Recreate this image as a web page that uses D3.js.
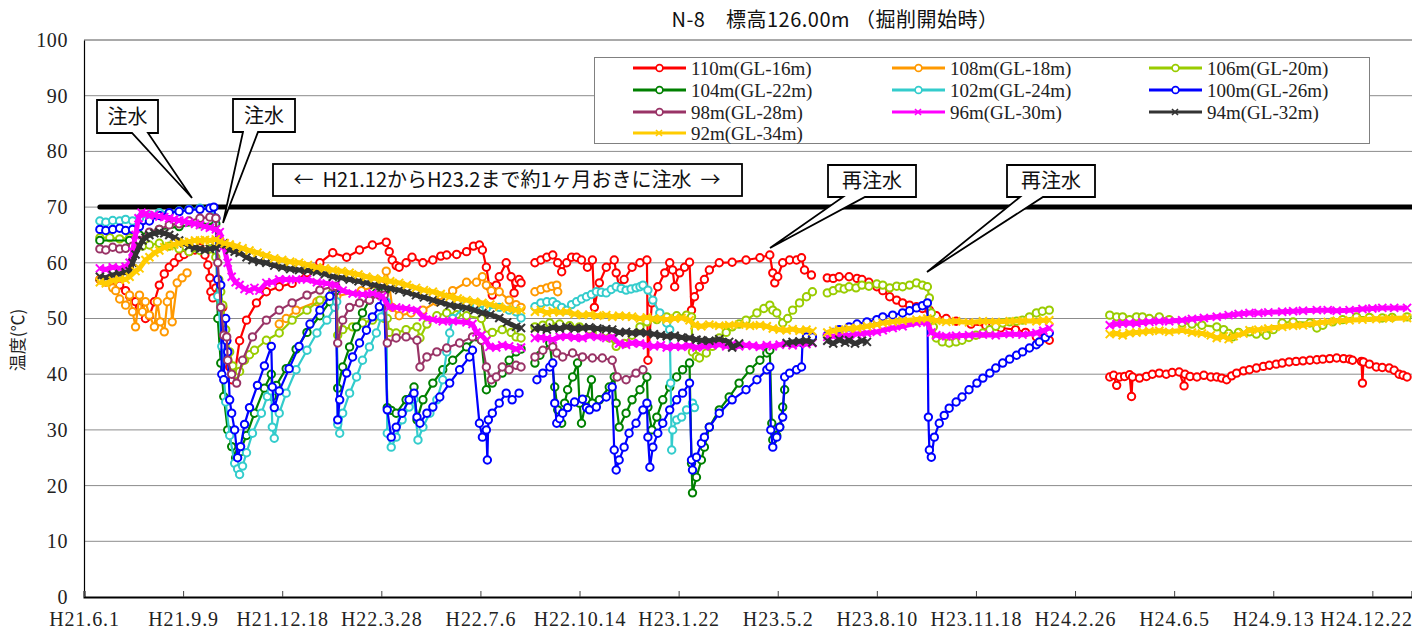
<!DOCTYPE html>
<html><head><meta charset="utf-8">
<script src="https://cdn.jsdelivr.net/npm/d3@7/dist/d3.min.js"></script>
<style>body{margin:0;background:#fff}svg{display:block}</style>
</head><body><svg id="c" width="1412" height="635"></svg>
<script>
// ---- axis data (days since H21.6.1) ----
const tickDays = [0,100,200,300,400,500,600,700,800,900,1000,1100,1200,1300];
const tickLabels = ["H21.6.1","H21.9.9","H21.12.18","H22.3.28","H22.7.6","H22.10.14","H23.1.22","H23.5.2","H23.8.10","H23.11.18","H24.2.26","H24.6.5","H24.9.13","H24.12.22"];
const yTicks = [0,10,20,30,40,50,60,70,80,90,100];
const seriesNames = ["110m(GL-16m)","108m(GL-18m)","106m(GL-20m)","104m(GL-22m)","102m(GL-24m)","100m(GL-26m)","98m(GL-28m)","96m(GL-30m)","94m(GL-32m)","92m(GL-34m)"];
const seriesColors = ["#FF0000","#FF9900","#99CC00","#008000","#33CCCC","#0000FF","#993366","#FF00FF","#333333","#FFCC00"];
const seriesMarkers = ["circle","circle","circle","circle","circle","circle","circle","x","x","x"];
const limitDays = [16,216,416,616,816,1016,1216,1340];
const limitValue = 70;

// ---- series values: [day, temperature] ; null = data gap ----
const s110 = [[16,57],[26,56.5],[32,55.5],[36,56],[42,55],[46,54],[52,53],[56,52],[62,50],[66,50.5],[71,53],[76,56],[81,58],[86,59.2],[91,60],[96,61],[101,61.5],[106,62],[112,62.3],[117,62.7],[122,61.4],[125,59.6],[127,57.3],[128,54.8],[130,53.7],[133,55.5],[137,55],[140,52],[144,46],[147,41.3],[149,39],[152,40],[157,46],[164,49.7],[174,52.8],[184,54.8],[197,55.7],[210,56.3],[225,58.2],[238,60],[251,61.8],[265,61],[278,62.3],[291,63.2],[305,63.7],[308,62],[311,60.5],[315,59.5],[318,59.2],[325,60],[331,61],[342,60],[352,60.5],[360,61.2],[366,61.4],[376,61.5],[386,62],[393,63],[399,63.2],[402,62.3],[406,59.2],[409,55.7],[412,54.2],[416,56],[419,57.5],[426,60],[431,57.5],[434,54.6],[436,56.5],[439,57],[441,56.4],
 null,
 [455,60],[461,60.5],[467,61],[473,61.4],[478,60],[482,58.4],[487,60],[492,61],[497,61],[502,60.5],[508,59.2],[513,60.5],[515,52],[520,56.4],[527,59.2],[535,60.5],[537,58.2],[540,55.7],[545,57],[553,59.2],[561,60],[568,60.5],[569,42.5],[573,52.8],[579,55.7],[586,58.2],[591,60],[594,58.7],[596,55.7],[601,58.2],[606,59.2],[611,60.1],[613,51.5],[616,53.9],[621,55.7],[626,57],[631,58.7],[641,60],[654,60.1],[668,60.5],[682,60.9],[692,61.4],[695,58.2],[697,56.4],[700,57.5],[705,60],[712,60.5],[719,60.5],[724,60.9],[727,58.7],[734,57.8],
 null,
 [750,57.3],[756,57.2],[762,57.5],[772,57.5],[780,57.2],[785,57],[792,56.5],[800,55.7],[806,55],[813,53.9],[820,53.3],[826,52.8],[833,52.4],[840,52.1],[846,51.8],[853,51.5],[860,50.5],[870,50],[880,49.5],[895,49],[910,48.7],[925,48.3],[940,48],[950,47.5],[961,46.7],[968,46.5],[974,46.1],
 null,
 [1035,39.5],[1039,39.8],[1042,38],[1045,39.5],[1050,39.6],[1055,39.9],[1057,36],[1058,39.5],[1065,39.3],[1072,39.6],[1078,40],[1085,40.2],[1092,40],[1098,40.3],[1105,40.4],[1110,37.9],[1111,40],[1116,39.6],[1123,39.5],[1130,39.8],[1137,39.5],[1143,39.5],[1148,39.3],[1153,39],[1158,39.7],[1163,40.2],[1170,40.6],[1176,40.8],[1183,41.1],[1190,41.4],[1196,41.6],[1203,41.8],[1209,42],[1216,42.2],[1223,42.3],[1230,42.4],[1237,42.5],[1244,42.6],[1250,42.7],[1257,42.8],[1264,42.9],[1271,42.8],[1277,42.7],[1280,42.5],[1289,42.3],[1290,38.4],[1291,42.2],[1297,41.8],[1304,41.3],[1310,41.2],[1317,41.1],[1322,40.7],[1327,40],[1331,39.8],[1335,39.5]];

const s108 = [[16,57],[22,56.5],[29,55.5],[32,55],[36,53.5],[42,52.4],[46,54.2],[49,51.2],[52,48.5],[56,54.2],[59,51.2],[62,53],[66,50.6],[71,48.5],[74,53],[77,49.4],[81,47.6],[84,53],[87,54.2],[89,49.4],[94,56.4],[99,57.3],[104,58.2],
 null,
 [197,49],[204,50],[214,51.5],[235,53],[255,54],[280,55],[300,56],[305,58.5],[308,56],[311,52],[318,50.5],[330,51],[342,51.5],[356,53],[372,55],[386,56.5],[396,56.5],[402,57.5],[406,56],[411,55],[419,54.8],[429,53.3],[436,52.5],[441,52],
 null,
 [455,54.8],[461,55.2],[467,55.5],[472,55.8],[477,56],[478,54.8]];

const s106 = [[16,64.5],[26,64.5],[36,64.3],[46,64.5],[52,63.5],[59,63],[66,63.2],[76,63.5],[86,63],[96,62.5],[106,62],[117,62.2],[127,62.5],[133,61],[136,57],[138,54.8],[140,52.4],[143,48],[147,44],[150,41.5],[153,40],[157,40.5],[162,42.5],[167,43.5],[172,44.3],[184,46.1],[197,47.4],[210,49.7],[225,51.5],[238,53.3],[251,54.8],[255,55],[256,47],[261,48],[271,48.5],[281,49.2],[291,49.7],[303,50],[306,50],[308,47.5],[315,47.4],[325,48],[336,48.5],[339,46.5],[346,49],[356,50.5],[366,51],[376,50.7],[386,50.5],[401,50],[406,47],[412,47.5],[422,48],[431,47.5],[436,46.7],[441,46.5],
 null,
 [455,48.5],[463,48.8],[470,49.2],[480,49],[490,48.7],[500,48.5],[510,48],[520,47.5],[530,46.5],[537,45],[545,45.5],[553,47],[561,48.5],[568,49.4],[578,49.8],[588,50.3],[598,50.5],[608,50.6],[613,50.3],[614,44],[618,43.2],[621,42.9],[628,43.8],[634,45],[641,46.5],[648,47.5],[654,48.5],[661,49],[668,49.7],[679,51],[686,51.8],[692,52.4],[695,51.5],[699,51],[705,49.2],[710,50],[715,51.5],[722,52.8],[729,53.9],[735,54.8],
 null,
 [750,54.6],[756,55],[762,55.5],[767,55.3],[772,55.7],[779,55.5],[785,56],[792,55.8],[800,56.2],[806,56],[813,55.5],[820,55.8],[826,55.7],[833,56],[840,56.4],[846,56],[851,55.7],[853,53.7],[855,51],[857,48.5],[860,46.5],[866,45.8],[873,45.6],[880,45.8],[886,46.1],[893,46.6],[900,47],[907,47.4],[914,48],[920,48.6],[927,49.2],[934,49.4],[941,49.5],[947,49.7],[954,50.3],[961,51],[967,51.3],[974,51.5],
 null,
 [1035,50.6],[1042,50.3],[1048,50.3],[1055,49.8],[1062,50.3],[1068,50.3],[1075,50],[1085,50.3],[1095,49.8],[1108,49.2],[1118,49],[1128,48.8],[1143,48.5],[1150,48],[1155,47.3],[1159,46.7],[1165,47.5],[1176,47.6],[1183,47.2],[1193,47],[1200,48],[1209,49.2],[1220,49.4],[1237,49.2],[1244,48.3],[1250,48.8],[1260,49.4],[1270,49.8],[1284,50.3],[1297,50.2],[1310,50.1],[1320,50.2],[1335,50.3]];

const s104 = [[16,64],[46,64],[56,65],[76,66],[96,66.5],[117,67],[133,67],[135,50],[138,42],[141,36],[145,30],[149,27],[153,25],[157,26],[164,29],[172,33],[182,37.5],[189,40],[190,36],[194,38],[204,41],[214,44.5],[225,47.5],[238,50.5],[248,53],[254,55],[256,37.5],[261,41.3],[268,44.9],[275,48.5],[281,51],[288,53.3],[295,54.6],[301,54.8],[304,55],[306,34],[310,33.5],[315,33],[325,35.4],[333,37.7],[336,31.8],[342,35.4],[352,38.4],[362,40.8],[372,42.5],[386,44.9],[396,46.7],[401,46.1],[406,37.2],[412,38.4],[422,40.2],[429,42.5],[436,44],[441,44.5],
 null,
 [455,42],[460,43.4],[470,45.6],[475,37.7],[478,33.6],[482,31.2],[485,34.8],[488,37.2],[493,39.5],[498,42],[500,34.8],[502,31.2],[507,35.4],[512,39],[513,34.8],[520,35.4],[530,37.7],[535,39.5],[537,34.8],[540,30.5],[547,33],[553,35.4],[561,37.2],[568,39.5],[569,34.1],[573,30],[578,32.3],[584,35.4],[591,37.7],[598,39.5],[604,40.8],[611,42],[613,24],[614,18.7],[618,21.5],[623,24.6],[626,26.9],[631,30.5],[641,33.6],[651,35.9],[661,38.4],[672,40.8],[682,42.5],[689,43.8],[692,44.3],[694,31.2],[695,28.2],[699,29],[702,30.5],[705,34.1],[707,37.2]];

const s102 = [[16,67.5],[22,67.3],[29,67.6],[36,67.5],[42,67.8],[49,67.5],[56,68],[66,68.5],[76,69],[96,69.3],[106,69.6],[117,69.8],[127,69.8],[133,68],[135,54],[139,45],[143,35],[147,29],[152,24],[155,23],[157,22],[160,23.5],[164,25.9],[170,29.4],[179,33],[185,36],[189,37],[190,30.5],[192,28.5],[197,33],[204,36.6],[214,40.8],[225,44.3],[235,47.4],[245,49.7],[253,52],[255,53],[256,31],[258,29.4],[261,33],[268,36.6],[275,39.5],[281,42.5],[288,44.9],[295,47.4],[300,50.3],[303,52.4],[305,53],[306,29.4],[310,26.9],[315,28.7],[321,31.8],[328,34.1],[333,35.5],[337,28.2],[342,30.5],[349,33],[356,35.4],[362,39],[366,44],[369,47.4],[372,50],[386,52.5],[396,52.3],[406,51.8],[419,52],[429,51.5],[436,51.2],[441,50.1],
 null,
 [455,52.1],[461,52.8],[467,53],[473,53],[477,52.5],[482,52],[487,51.5],[492,52.5],[497,53],[502,53.5],[507,53.9],[512,54.3],[517,54.8],[522,54.7],[527,54.6],[532,55.2],[537,55.7],[542,55.4],[547,55.1],[552,55.3],[557,55.5],[561,55.7],[564,56],[569,55.1],[574,53.3],[581,51],[588,49.2],[591,48],[592,38.4],[593,26.4],[594,30],[598,31.8],[603,32.3],[608,33.6],[614,34.8],[616,34]];

const s100 = [[16,66],[22,65.8],[29,66],[36,66.2],[42,65.8],[49,66],[56,66.5],[66,67.5],[76,68.5],[86,69],[96,69.2],[106,69.5],[117,69.6],[127,69.8],[131,70],[133,68],[135,57],[138,56],[139,40],[141,39],[143,50],[144,46],[145,44],[147,35.4],[149,33],[152,30],[155,25],[158,27],[162,31],[167,34],[175,38],[182,41.5],[189,45],[190,37.7],[192,34],[197,37],[207,41],[217,45],[228,49],[238,51.5],[248,54],[254,55.5],[256,31.8],[258,35.4],[265,40.2],[271,43.1],[278,45.6],[285,47.9],[291,50.3],[298,52.1],[303,53],[306,33.6],[310,28.7],[315,30.5],[321,33],[328,35.4],[333,36.6],[336,32.3],[339,31.2],[346,33],[352,34.1],[359,35.9],[369,38.4],[379,40.8],[389,43.1],[392,44.3],[399,31.2],[402,28.7],[406,30],[407,24.6],[408,31.8],[412,33],[419,34.8],[426,36.6],[432,35.4],[439,36.6],
 null,
 [457,39],[463,40.2],[470,41.3],[473,42],[475,34.8],[477,31.2],[480,32],[483,33],[488,34],[495,35],[503,35.5],[507,34],[510,33.6],[517,34.1],[527,35.9],[533,37.7],[535,26.4],[537,22.8],[540,24.6],[545,26.9],[550,29.4],[557,31.2],[564,33.6],[568,34.8],[569,28.7],[571,23.3],[574,26.9],[579,29.4],[584,31.2],[591,33.6],[598,35.4],[604,36.6],[611,38.4],[613,24.6],[614,22.8],[618,25.1],[623,27.6],[626,28.7],[631,30.5],[641,33],[654,35.4],[668,37.2],[679,39],[689,40.8],[692,41.3],[693,30],[695,26.9],[699,28.7],[702,30.5],[705,32.3],[707,39.5],[712,40.2],[719,40.8],[724,41.3],[725,45.6],[729,46.7],[735,46.7],
 null,
 [750,47],[756,47.5],[762,48],[772,48.5],[780,49],[790,49.4],[800,49.8],[806,50.3],[816,50.6],[826,51],[833,51.4],[840,51.9],[846,52.3],[851,52.8],[852,32.3],[853,26.4],[855,25.1],[858,28.7],[863,31.2],[868,32.6],[873,33.9],[880,35],[886,35.9],[893,37.2],[901,38.4],[907,39.3],[914,40.2],[920,41.1],[927,42],[934,42.7],[941,43.4],[947,44],[954,44.7],[961,45.3],[964,45.8],[970,46.6],[974,47.4]];

const s98 = [[16,62.5],[22,62.3],[29,62.8],[36,62.5],[42,62.6],[49,63],[56,64],[66,65.5],[76,66],[86,66.8],[96,67],[106,67.5],[117,68],[127,68.2],[133,68],[135,60],[138,52],[141,47],[144,46.7],[145,42.5],[149,40],[154,38.4],[160,42.5],[170,46.7],[184,49.7],[197,51.5],[210,52.8],[225,54.2],[238,55.1],[251,55.7],[254,55.8],[256,45.6],[261,49.7],[268,52],[278,52.8],[288,53.3],[298,54.2],[303,54.2],[306,45.6],[315,46.5],[325,46.7],[336,46.1],[339,41.3],[346,43.1],[356,44],[366,44.7],[379,45.6],[392,46.7],[401,46.1],[406,41.3],[411,39],[416,39.5],[422,41.3],[429,40.8],[436,41.6],[441,41.3],
 null,
 [455,43.1],[463,44.3],[473,44.9],[477,43.8],[483,43.1],[493,43.8],[503,43.1],[513,42.9],[523,42.9],[533,42.5],[538,39.5],[547,39],[557,40.2],[564,40.8]];

const s96 = [[16,59],[22,58.8],[29,59.2],[36,59],[42,59.3],[46,60],[49,62],[52,65],[55,68],[58,69],[62,68.8],[66,68.5],[71,68.6],[76,68.3],[81,68.2],[86,68],[91,67.8],[96,67.6],[101,67.5],[106,67.2],[112,67],[117,66.8],[122,66.5],[127,66.3],[133,66],[137,65.5],[141,63],[145,60],[149,57.5],[153,56.5],[157,56],[162,55.3],[167,55],[172,55.5],[177,55],[184,56.4],[190,56.5],[197,57],[204,57],[214,57],[225,57],[235,56.5],[245,56.3],[254,56],[261,55],[271,54.5],[281,54.3],[291,54.5],[301,54],[308,52],[315,52],[325,51.8],[336,51.5],[342,50.3],[352,49.8],[362,49.5],[372,49.5],[386,49.3],[392,49],[396,47.5],[401,47],[406,46],[409,44.9],[416,44.8],[422,45.2],[429,45],[436,44.5],[441,44.8],
 null,
 [455,46.5],[461,46.6],[467,46.4],[473,46.2],[480,46.7],[487,46.8],[495,46.6],[503,46.5],[510,46.9],[518,46.7],[527,46.5],[533,46.7],[540,45.5],[547,45.3],[553,45.6],[561,45.5],[568,45.2],[575,45],[582,45.2],[588,44.8],[596,45],[603,44.9],[611,45.1],[618,44.8],[626,45],[634,45.2],[641,45.3],[648,45],[654,45.4],[661,45],[668,45.2],[675,45.1],[682,44.9],[689,45.2],[695,45],[702,45.3],[709,45.4],[715,45.2],[722,45.5],[729,45.4],[735,45.6],
 null,
 [750,46.7],[756,46.8],[762,46.9],[772,47],[780,47.2],[790,47.4],[800,47.6],[806,47.9],[816,48.3],[826,48.6],[840,49.2],[851,49.3],[855,47.5],[860,47],[870,46.8],[880,46.9],[893,47],[907,47.1],[920,47],[934,47.2],[947,47.1],[961,47.4],[968,47.8],[974,48.3],
 null,
 [1035,48.8],[1042,49],[1048,49.1],[1055,49.2],[1062,49.1],[1068,49.3],[1075,49.4],[1085,49.5],[1095,49.5],[1108,49.7],[1118,49.9],[1130,50.1],[1143,50.3],[1155,50.6],[1165,50.8],[1176,51],[1185,51],[1195,51.1],[1209,51.2],[1220,51.3],[1230,51.4],[1244,51.5],[1255,51.5],[1264,51.4],[1277,51.5],[1290,51.7],[1300,51.8],[1310,51.9],[1322,51.9],[1335,51.9]];

const s94 = [[16,57.5],[22,57.3],[29,57.8],[36,58],[42,58.3],[46,58.5],[49,60],[52,61.5],[56,63],[59,64],[62,64.5],[66,65],[71,65.3],[76,65.5],[81,65.3],[86,65],[91,64.5],[96,64],[101,63.5],[106,63],[112,62.7],[117,62.5],[122,62.3],[127,62.5],[133,62.7],[137,63.3],[141,63.5],[147,62.3],[152,62],[157,61.8],[164,61],[170,60.5],[177,60.2],[184,60],[192,59.5],[200,59.2],[208,58.9],[217,58.7],[226,58.6],[235,58.4],[243,58],[251,57.5],[260,57.3],[268,57],[277,56.7],[285,56.4],[293,56],[301,55.7],[309,55.4],[318,55.1],[326,54.7],[335,54.2],[343,53.8],[352,53.3],[360,52.9],[369,52.4],[377,52.2],[386,51.9],[394,51.5],[402,51],[410,50.7],[419,50.1],[427,49.3],[436,48.5],[441,48.3],
 null,
 [455,48.2],[461,48.3],[467,48],[473,48.4],[480,48.2],[487,48.5],[495,48.2],[503,48.3],[510,48.4],[518,48.2],[527,48.1],[533,48],[540,47.5],[547,47.6],[553,47.4],[561,47.5],[568,47.4],[575,47.2],[582,47],[588,46.8],[596,46.9],[603,46.6],[611,46.5],[618,46.2],[623,46.1],[631,46],[641,46.3],[651,45.8],[654,44.8],[661,45.5],
 null,
 [709,45.6],[715,45.8],[722,45.9],[729,46],[735,45.7],
 null,
 [750,46],[756,45.5],[762,46.2],[768,45.7],[772,46.1],[778,45.5],[785,46],[790,45.8]];

const s92 = [[16,56.5],[22,56.3],[29,56.8],[36,57],[42,57],[46,57.5],[52,58.5],[56,59],[62,60.5],[66,61],[71,61.8],[76,62.2],[81,62.8],[86,63],[91,63.3],[96,63.5],[101,63.7],[106,63.8],[112,64],[117,64],[122,64.1],[127,64],[133,64.2],[137,63.8],[142,63.5],[147,63.3],[154,63],[160,62.6],[167,62.2],[175,61.8],[184,61.3],[192,60.8],[200,60.5],[208,60.2],[217,60],[226,59.6],[235,59.2],[243,59],[251,58.7],[260,58.5],[268,58.2],[277,57.9],[285,57.5],[293,57.2],[301,57],[309,56.7],[318,56.4],[326,56],[335,55.5],[343,55.1],[352,54.8],[360,54.4],[369,53.9],[377,53.6],[386,53.3],[394,53],[402,52.8],[410,52.5],[419,52.1],[427,51.8],[436,51.5],[441,51.5],
 null,
 [455,51.2],[461,51.5],[467,51],[473,51.3],[480,51.1],[487,51.2],[495,50.8],[503,50.6],[510,50.7],[518,50.5],[527,50.6],[533,50.3],[540,50.5],[547,50.4],[553,50.3],[561,50],[568,50.2],[575,49.9],[582,50],[588,49.8],[596,50],[603,50.1],[611,49.7],[616,48.8],[623,48.6],[631,48.9],[641,48.7],[651,48.8],[661,48.9],[672,48.7],[682,48.8],[689,48.6],[695,48.2],[702,48],[709,47.9],[715,48.1],[722,47.8],[729,48],[735,47.7],
 null,
 [750,47.5],[756,47.8],[762,48],[772,48.2],[780,48.3],[790,48.6],[800,48.9],[806,49.2],[816,49.4],[826,49.6],[840,49.8],[851,50],[860,49.6],[870,49.4],[880,49.5],[893,49.3],[907,49.5],[920,49.4],[934,49.5],[947,49.6],[961,49.5],[968,49.7],[974,49.7],
 null,
 [1035,47.2],[1042,47.3],[1048,47],[1055,47.4],[1062,47.5],[1068,47.6],[1075,47.7],[1085,47.8],[1095,47.6],[1108,47.9],[1118,47.5],[1128,47.3],[1137,47],[1143,46.5],[1150,46.8],[1155,46.3],[1160,46.8],[1170,47.3],[1176,47.9],[1185,48],[1195,48.2],[1209,48.5],[1220,48.7],[1230,48.8],[1244,49.2],[1255,49.4],[1264,49.6],[1277,49.7],[1290,49.8],[1304,49.9],[1317,50],[1335,50.1]];

const seriesValues = [s110,s108,s106,s104,s102,s100,s98,s96,s94,s92];

// ---- annotations ----
const callouts = [
  {text:"注水", box:[97,100,158,133], base:[132,148], tip:[192,198]},
  {text:"注水", box:[233,99,295,132], base:[243,258], tip:[223,223]},
  {text:"再注水", box:[828,165,916,197], base:[843,865], tip:[770,248]},
  {text:"再注水", box:[1007,165,1095,197], base:[1020,1043], tip:[927,272]}
];
const noteText = "←  H21.12からH23.2まで約1ヶ月おきに注水  →";

// ---- drawing ----
const svg = d3.select("#c");
const M = {l:84, r:1412, t:40, b:597};
const x = d3.scaleLinear().domain([0,1340]).range([M.l, M.r]);
const y = d3.scaleLinear().domain([0,100]).range([M.b, M.t]);
const serif = "'Liberation Serif','DejaVu Serif',serif";
const gothic = "'Noto Sans CJK JP','Noto Sans',sans-serif";

// gridlines
svg.append("g").selectAll("line").data(yTicks.filter(v=>v>0)).join("line")
  .attr("x1",M.l).attr("x2",M.r).attr("y1",d=>y(d)).attr("y2",d=>y(d))
  .attr("stroke",d=>d===100?"#555":"#8c8c8c").attr("stroke-width",1);

// y axis
const ya = svg.append("g").attr("transform",`translate(${M.l},0)`)
  .call(d3.axisLeft(y).tickValues(yTicks).tickSize(0).tickPadding(16));
ya.select(".domain").attr("stroke","#000").attr("stroke-width",1.2);
ya.selectAll("text").attr("font-family",serif).attr("font-size",20).attr("letter-spacing",0.6).attr("fill","#222");

// x axis
const xa = svg.append("g").attr("transform",`translate(0,${M.b})`)
  .call(d3.axisBottom(x).tickValues(tickDays).tickSize(-6).tickPadding(15)
    .tickFormat((d,i)=>tickLabels[i]));
xa.select(".domain").attr("stroke","#000").attr("stroke-width",2);
xa.selectAll(".tick line").attr("stroke","#444");
xa.selectAll("text").attr("font-family",serif).attr("font-size",20).attr("letter-spacing",0.9).attr("fill","#222");
xa.selectAll(".tick:last-of-type text").attr("text-anchor","end").attr("x",40);

// y label
svg.append("text").attr("transform","translate(24,340) rotate(-90)")
  .attr("text-anchor","middle").attr("font-family",gothic).attr("font-size",17)
  .attr("fill","#222").text("温度(℃)");

// title
svg.append("text").attr("x",835).attr("y",27).attr("text-anchor","middle")
  .attr("font-family",gothic).attr("font-size",20).attr("letter-spacing",0.5).attr("fill","#111")
  .text("N-8　標高126.00m （掘削開始時）");

// clip
svg.append("clipPath").attr("id","pc").append("rect")
  .attr("x",M.l).attr("y",M.t).attr("width",M.r-M.l).attr("height",M.b-M.t);
const plot = svg.append("g").attr("clip-path","url(#pc)");

// 70 line
plot.append("path").datum(limitDays)
  .attr("d", d3.line().x(d=>x(d)).y(()=>y(limitValue)))
  .attr("fill","none").attr("stroke","#000").attr("stroke-width",5).attr("stroke-linecap","round");

const line = d3.line().defined(d=>d!==null).x(d=>x(d[0])).y(d=>y(d[1]));
seriesValues.forEach((data,i)=>{
  const col = seriesColors[i];
  const g = plot.append("g");
  const isX = seriesMarkers[i]==="x";
  g.append("path").datum(data).attr("d",line).attr("fill","none")
    .attr("stroke",col).attr("stroke-width",isX?5:2.2).attr("stroke-linejoin","round");
  const pts = data.filter(d=>d!==null);
  if(isX){
    g.selectAll("path.m").data(pts).join("path").attr("class","m")
      .attr("d",d=>{const cx=x(d[0]),cy=y(d[1]);return `M${cx-4},${cy-4}L${cx+4},${cy+4}M${cx-4},${cy+4}L${cx+4},${cy-4}`;})
      .attr("stroke",col).attr("stroke-width",2);
  } else {
    g.selectAll("circle").data(pts).join("circle")
      .attr("cx",d=>x(d[0])).attr("cy",d=>y(d[1])).attr("r",3.7)
      .attr("fill","#fff").attr("stroke",col).attr("stroke-width",2);
  }
});

// legend
const lg = svg.append("g");
lg.append("rect").attr("x",594.5).attr("y",57.5).attr("width",775).attr("height",86)
  .attr("fill","#fff").attr("stroke","#808080").attr("stroke-width",1);
const colX = [633,892,1149], rowY = [68,90,112,133];
seriesNames.forEach((n,i)=>{
  const cx = colX[i%3], cy = rowY[Math.floor(i/3)], col = seriesColors[i];
  const e = lg.append("g");
  e.append("line").attr("x1",cx).attr("x2",cx+53).attr("y1",cy).attr("y2",cy)
    .attr("stroke",col).attr("stroke-width",3);
  if(seriesMarkers[i]==="x"){
    e.append("path").attr("d",`M${cx+23},${cy-3}L${cx+29},${cy+3}M${cx+23},${cy+3}L${cx+29},${cy-3}`)
      .attr("stroke",col).attr("stroke-width",1.6);
  } else {
    e.append("circle").attr("cx",cx+26.5).attr("cy",cy).attr("r",3.4)
      .attr("fill","#fff").attr("stroke",col).attr("stroke-width",1.7);
  }
  e.append("text").attr("x",cx+58).attr("y",cy+6.5).attr("font-family",serif)
    .attr("font-size",19).attr("fill","#222").text(n);
});

// callouts
callouts.forEach(c=>{
  const [x0,y0,x1,y1]=c.box, [a,b]=c.base, [tx,ty]=c.tip;
  svg.append("path").attr("d",`M${x0},${y0}H${x1}V${y1}H${b}L${tx},${ty}L${a},${y1}H${x0}Z`)
    .attr("fill","#fff").attr("stroke","#000").attr("stroke-width",1.8);
  svg.append("text").attr("x",(x0+x1)/2).attr("y",(y0+y1)/2+7).attr("text-anchor","middle")
    .attr("font-family",gothic).attr("font-size",20).attr("fill","#111").text(c.text);
});
svg.append("rect").attr("x",273).attr("y",164).attr("width",469).attr("height",32)
  .attr("fill","#fff").attr("stroke","#000").attr("stroke-width",1.8);
svg.append("text").attr("x",507).attr("y",187).attr("text-anchor","middle")
  .attr("font-family",gothic).attr("font-size",20).attr("fill","#111")
  .attr("xml:space","preserve").style("white-space","pre").text(noteText);
</script></body></html>
